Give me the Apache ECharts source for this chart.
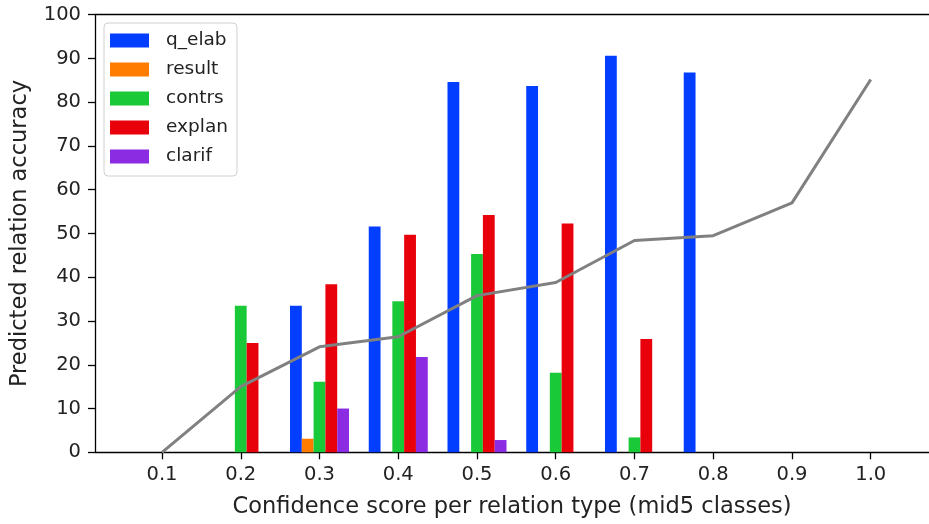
<!DOCTYPE html>
<html>
<head>
<meta charset="utf-8">
<script src="https://cdn.jsdelivr.net/npm/echarts@6/dist/echarts.min.js"></script>
<style>html,body{margin:0;padding:0;background:#fff}#c{width:929px;height:524px}</style>
</head>
<body>
<div id="c"></div>
<script>
// x bins (confidence score)
const bins = [0.1, 0.2, 0.3, 0.4, 0.5, 0.6, 0.7, 0.8, 0.9, 1.0];
const xTicks = [0.1, 0.2, 0.3, 0.4, 0.5, 0.6, 0.7, 0.8, 0.9, 1.0];
const seriesNames = ['q_elab', 'result', 'contrs', 'explan', 'clarif'];
const q_elab = [0, 0, 33.5, 51.6, 84.6, 83.7, 90.6, 86.8, 0, 0];
const result = [0, 0, 3.1, 0, 0, 0, 0, 0, 0, 0];
const contrs = [0, 33.5, 16.1, 34.5, 45.3, 18.2, 3.4, 0, 0, 0];
const explan = [0, 25.0, 38.4, 49.7, 54.2, 52.3, 25.9, 0, 0, 0];
const clarif = [0, 0, 10.0, 21.8, 2.8, 0, 0, 0, 0, 0];
const overall = [0, 15.0, 24.1, 26.4, 35.8, 38.8, 48.4, 49.5, 57.0, 85.2];

const colors = ['#023eff', '#ff7c00', '#1ac938', '#e8000b', '#8b2be2'];
const values = [q_elab, result, contrs, explan, clarif];

const font = 'DejaVu Sans';
const txt = '#222';

const barSeries = seriesNames.map((n, i) => ({
  name: n,
  type: 'bar',
  barWidth: 11.8,
  barGap: '0%',
  itemStyle: { color: colors[i] },
  data: bins.map((b, k) => [b, values[i][k]]),
  z: 2
}));

const option = {
  animation: false,
  backgroundColor: '#fff',
  grid: { left: 95, right: 0, top: 14.7, bottom: 71.7, containLabel: false },
  legend: {
    orient: 'vertical',
    left: 104, top: 23,
    data: seriesNames,
    icon: 'rect',
    itemWidth: 39, itemHeight: 14, itemGap: 10,
    padding: [8, 9, 10, 6],
    borderColor: '#d0d0d0', borderWidth: 1, borderRadius: 4,
    backgroundColor: '#fff',
    textStyle: { fontFamily: font, fontSize: 18.5, color: txt, padding: [0, 0, 0, 12] }
  },
  xAxis: [{
    type: 'value',
    min: 0.0149, max: 1.074,
    name: 'Confidence score per relation type (mid5 classes)',
    nameLocation: 'middle', nameGap: 43,
    nameTextStyle: { fontFamily: font, fontSize: 22.5, color: txt },
    axisLine: { show: true, lineStyle: { color: '#000', width: 1.3 } },
    axisTick: { show: true, length: 7, customValues: xTicks, lineStyle: { color: '#000', width: 1.3 } },
    axisLabel: { customValues: xTicks, fontFamily: font, fontSize: 19.5, color: txt, margin: 13,
      formatter: v => Number(v).toFixed(1) },
    splitLine: { show: false }
  }, {
    type: 'value', position: 'top',
    min: 0.0149, max: 1.074,
    axisLine: { show: true, onZero: false, lineStyle: { color: '#000', width: 1.3 } },
    axisTick: { show: false }, axisLabel: { show: false }, splitLine: { show: false }
  }],
  yAxis: {
    type: 'value', min: 0, max: 100, interval: 10,
    name: 'Predicted relation accuracy',
    nameLocation: 'middle', nameGap: 63,
    nameTextStyle: { fontFamily: font, fontSize: 22.5, color: txt },
    axisLine: { show: true, lineStyle: { color: '#000', width: 1.3 } },
    axisTick: { show: true, length: 7, lineStyle: { color: '#000', width: 1.3 } },
    axisLabel: { fontFamily: font, fontSize: 19.5, color: txt, margin: 14 },
    splitLine: { show: false }
  },
  series: barSeries.concat([{
    name: 'overall',
    type: 'line',
    data: bins.map((b, k) => [b, overall[k]]),
    showSymbol: false,
    symbol: 'none',
    lineStyle: { color: '#808080', width: 3 },
    z: 5
  }])
};

const chart = echarts.init(document.getElementById('c'), null, { renderer: 'canvas' });
chart.setOption(option);
</script>
</body>
</html>
